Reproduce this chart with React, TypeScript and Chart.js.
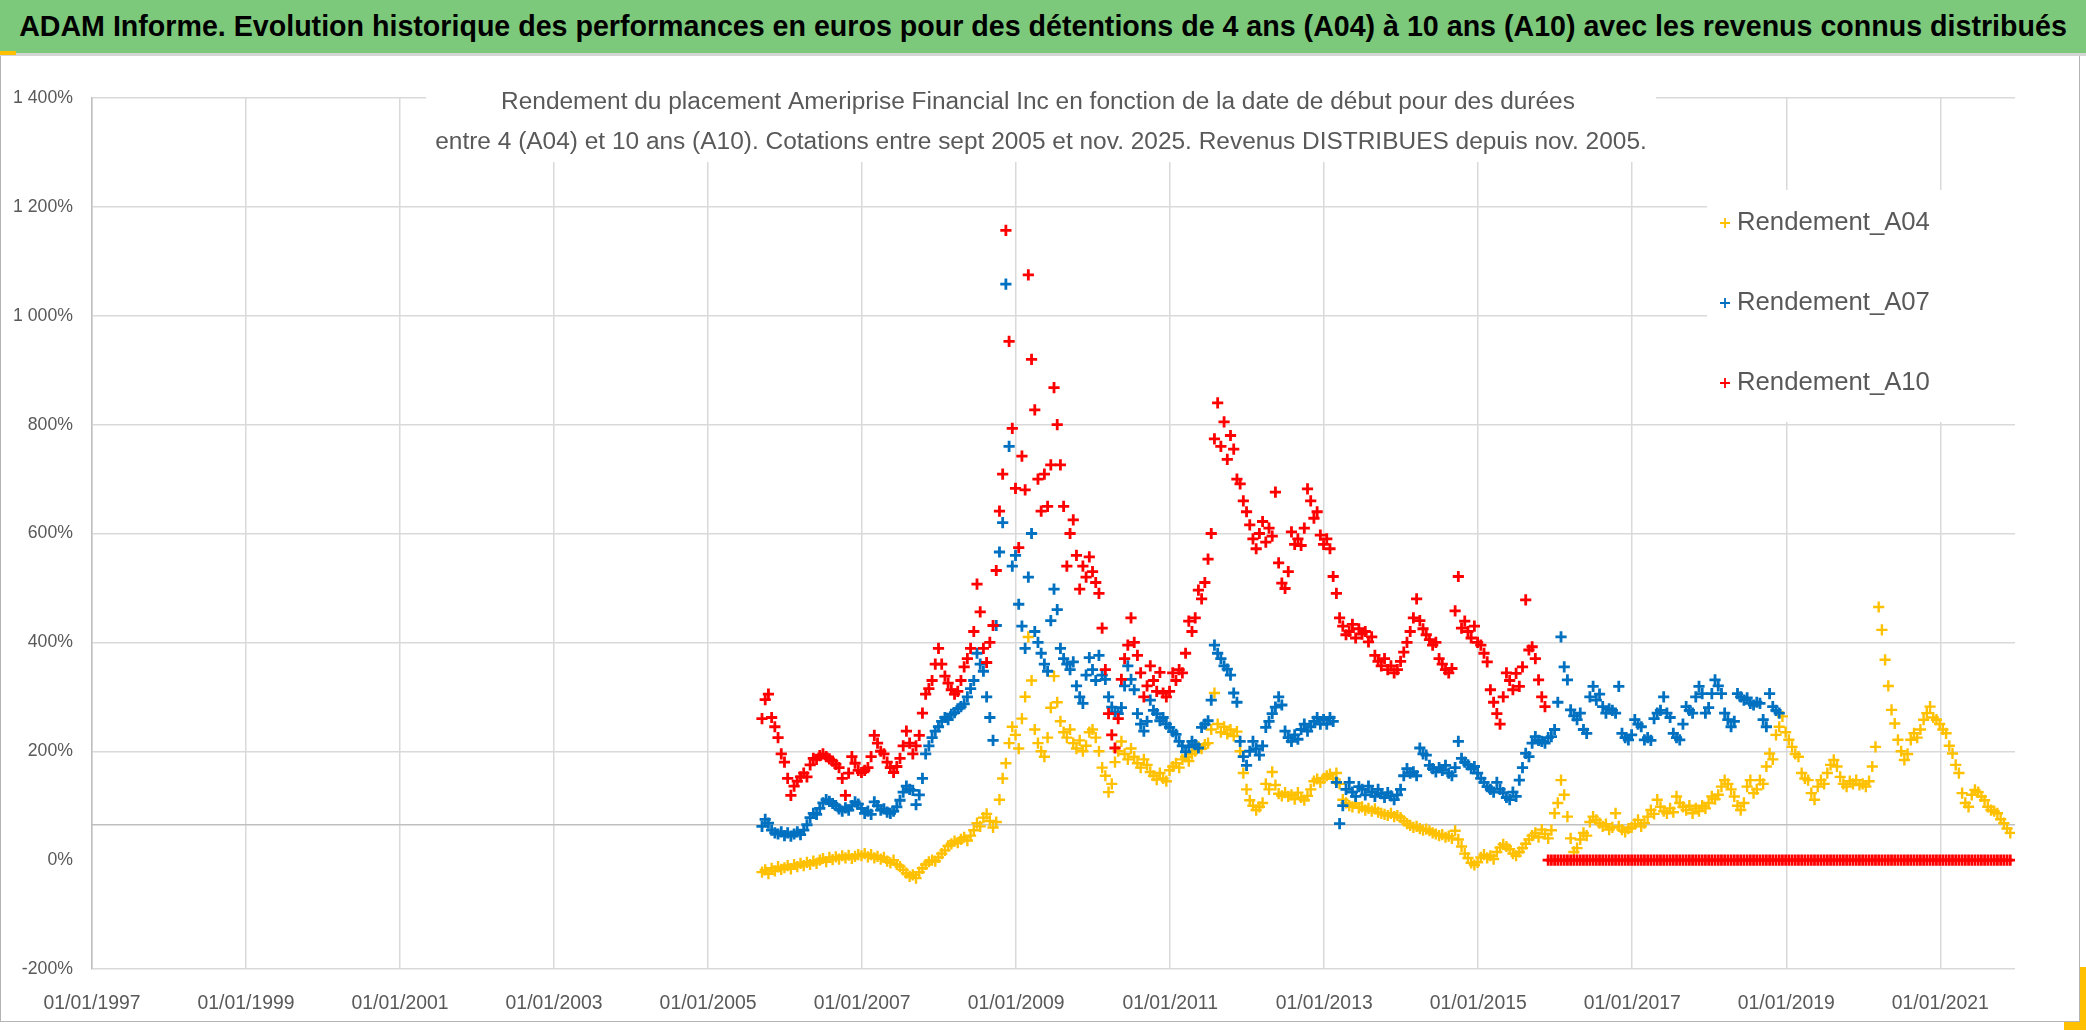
import React, { useEffect, useMemo, useRef } from "react";
import { Chart, registerables } from "chart.js";

Chart.register(...registerables);

// ---------- DATA ----------
const START_YEAR = 2005.7; // first start date: mid-September 2005
const STEP_YEARS = 1 / 24; // semi-monthly start dates

const X_MIN = 1997;
const X_MAX = 2021.97;
const X_TICKS = [1997, 1999, 2001, 2003, 2005, 2007, 2009, 2011, 2013, 2015, 2017, 2019, 2021];
const Y_MIN = -200;
const Y_MAX = 1400;
const Y_STEP = 200;
const AXIS_CROSS = 65; // horizontal axis line position (%)

const LABELS = ["Rendement_A04", "Rendement_A07", "Rendement_A10"];
const COLORS = ["#FFC000", "#0070C0", "#FF0000"];

const TITLE =
  "ADAM Informe. Evolution historique des performances en euros pour des détentions de 4 ans (A04) à 10 ans (A10) avec les revenus connus distribués";
const SUBTITLE = [
  "Rendement du placement Ameriprise Financial Inc en fonction de la date de début pour des durées",
  "entre 4 (A04) et 10 ans (A10). Cotations entre sept 2005 et nov. 2025. Revenus DISTRIBUES depuis nov. 2005.",
];

// Rendement_A04 (%), semi-monthly from Sep 2005
const A04 = [
  -22, -18, -25, -15, -20, -12, -17,
  -14, -10, -16, -8, -12, -6, -10, -4, -8, -2, -6, 0, 3, -3, 5, 1, 6, 2, 8, 4, 9, 3, 7, 10,
  8, 12, 6, 10, 4, 7, 2, 5, -2, -5, 0, -8, -12, -18, -24, -30, -27, -33, -22, -15, -8, -3, 0, -2,
  5, 12, 18, 26, 30, 35, 32, 38, 42, 36, 45, 55, 68, 62, 78, 85, 72, 60, 70, 111, 150, 178, 215, 245,
  230, 205, 260, 300, 410, 330, 240, 215, 200, 190, 225, 280, 338, 290, 255, 235, 225, 240, 215, 205, 220, 200, 210, 235,
  240, 225, 200, 170, 155, 125, 140, 180, 200, 218, 195, 185, 205, 190, 178, 170, 185, 175, 162, 155, 148, 160, 150, 145,
  165, 172, 178, 170, 185, 190, 182, 195, 200, 208, 205, 212, 215, 240, 307, 250, 235, 245, 232, 240, 228, 236, 200, 160,
  130, 110, 100, 92, 98, 105, 140, 130, 162, 138, 122, 118, 124, 117, 120, 112, 124, 115, 110, 118, 130, 145, 149, 143,
  150, 155, 158, 150, 160, 140, 111, 105, 100, 98, 104, 96, 98, 92, 95, 90, 94, 88, 86, 84, 82, 86, 80, 82,
  78, 72, 67, 64, 60, 62, 58, 55, 57, 54, 50, 48, 45, 47, 42, 44, 40, 54, 38, 25, 12, 4, -5, -9,
  -4, 5, 10, 4, 8, 2, 15, 23, 29, 25, 20, 12, 8, 15, 22, 30, 38, 45, 50, 42, 56, 48, 40, 55,
  86, 105, 147, 120, 80, 40, 15, 22, 38, 50, 45, 70, 80, 74, 68, 62, 66, 56, 60, 86, 62, 56, 52, 58,
  60, 66, 74, 62, 68, 80, 92, 85, 111, 98, 90, 86, 95, 88, 117, 105, 98, 92, 100, 86, 95, 90, 100, 95,
  105, 117, 112, 120, 135, 147, 140, 130, 117, 100, 92, 105, 135, 147, 123, 130, 147, 140, 172, 196, 185, 230, 245, 264,
  235, 221, 208, 195, 190, 160, 150, 147, 123, 111, 135, 147, 140, 160, 175, 184, 172, 153, 140, 135, 145, 140, 147, 138,
  140, 135, 145, 172, 208, 465, 423, 368, 320, 276, 251, 221, 200, 184, 195, 221, 233, 225, 240, 258, 270, 282, 262, 258,
  250, 240, 233, 210, 196, 175, 160, 123, 105, 98, 120, 129, 125, 117, 110, 98, 92, 90, 86, 75, 68, 58, 50,
];

// Rendement_A07 (%), semi-monthly from Sep 2005
const A07 = [
  62, 75, 68, 55, 50, 48, 52,
  45, 50, 44, 48, 52, 47, 55, 65, 78, 86, 84, 95, 105, 111, 108, 104, 100, 94, 90, 96, 92, 100, 107, 103,
  95, 86, 90, 84, 107, 100, 92, 94, 88, 86, 90, 98, 110, 125, 136, 130, 128, 102, 120, 150, 195, 210, 225, 237,
  245, 255, 262, 258, 268, 271, 278, 282, 287, 300, 315, 330, 380, 360, 347, 300, 262, 220, 431, 566, 620, 1058, 760, 540,
  560, 470, 430, 389, 520, 600, 420, 400, 380, 360, 347, 440, 498, 460, 389, 370, 360, 350, 364, 320, 300, 288, 340, 372,
  350, 330, 376, 340, 332, 300, 281, 272, 269, 280, 320, 357, 332, 313, 269, 250, 237, 255, 294, 275, 269, 256, 262, 250,
  244, 236, 231, 218, 210, 199, 208, 218, 212, 206, 244, 250, 256, 294, 395, 380, 370, 357, 351, 340, 307, 290, 218, 190,
  174, 200, 218, 205, 193, 210, 244, 255, 269, 281, 300, 285, 237, 225, 218, 230, 222, 240, 250, 237, 245, 255, 262, 250,
  258, 250, 262, 255, 143, 67, 100, 130, 143, 125, 117, 135, 130, 120, 136, 125, 117, 130, 122, 115, 124, 118, 111, 120,
  130, 155, 168, 160, 162, 155, 206, 195, 193, 174, 168, 162, 170, 165, 174, 160, 155, 170, 218, 187, 180, 175, 168, 172,
  160, 150, 143, 135, 130, 125, 143, 130, 124, 115, 111, 125, 117, 147, 170, 196, 190, 215, 227, 220, 218, 215, 225, 227,
  240, 290, 410, 355, 331, 276, 265, 258, 270, 240, 233, 300, 319, 294, 305, 282, 270, 278, 275, 270, 319, 233, 225, 221,
  230, 258, 250, 245, 221, 225, 220, 260, 270, 275, 300, 270, 262, 233, 225, 221, 250, 282, 275, 270, 300, 319, 306, 270,
  280, 306, 331, 320, 306, 270, 258, 245, 255, 306, 300, 294, 298, 288, 285, 290, 288, 258, 245, 306, 282, 275, 270,
];

// Rendement_A10 (%), semi-monthly from Sep 2005 (0 once the 10-year window passes nov. 2025)
const A10 = [
  260, 295, 305, 262, 245, 225, 195,
  180, 150, 119, 136, 145, 153, 160, 153, 175, 187, 185, 192, 195, 190, 186, 182, 176, 170, 150, 119, 160, 190, 178, 165,
  161, 165, 170, 190, 229, 215, 200, 195, 180, 170, 161, 172, 187, 210, 237, 215, 195, 210, 229, 270, 305, 315, 330, 360,
  389, 360, 338, 325, 313, 305, 310, 330, 355, 370, 389, 420, 507, 456, 389, 363, 400, 431, 532, 641, 709, 1157, 953, 793,
  683, 574, 742, 680, 1075, 920, 827, 700, 641, 709, 650, 726, 868, 800, 726, 650, 540, 600, 625, 560, 498, 540, 520, 557,
  530, 510, 490, 426, 350, 269, 230, 206, 260, 332, 370, 395, 445, 400, 376, 344, 300, 320, 357, 330, 310, 345, 307, 300,
  310, 344, 330, 350, 344, 380, 439, 420, 445, 496, 480, 510, 553, 600, 774, 840, 760, 805, 736, 780, 755, 700, 691, 660,
  640, 616, 590, 572, 600, 622, 584, 610, 595, 676, 546, 509, 499, 530, 603, 580, 590, 578, 610, 682, 660, 628, 640, 597,
  580, 590, 572, 521, 490, 445, 430, 414, 420, 433, 408, 425, 415, 420, 401, 410, 376, 365, 357, 370, 350, 357, 344, 350,
  365, 382, 400, 420, 445, 480, 440, 425, 414, 405, 395, 400, 370, 360, 350, 344, 352, 458, 521, 426, 439, 420, 408, 430,
  400, 395, 380, 364, 313, 290, 269, 250, 300, 344, 330, 313, 343, 319, 355, 478, 386, 392, 370, 331, 300, 282,
  0, 0, 0, 0, 0, 0, 0, 0, 0, 0, 0, 0, 0, 0, 0, 0, 0, 0, 0, 0, 0, 0, 0, 0,
  0, 0, 0, 0, 0, 0, 0, 0, 0, 0, 0, 0, 0, 0, 0, 0, 0, 0, 0, 0, 0, 0, 0, 0,
  0, 0, 0, 0, 0, 0, 0, 0, 0, 0, 0, 0, 0, 0, 0, 0, 0, 0, 0, 0, 0, 0, 0, 0,
  0, 0, 0, 0, 0, 0, 0, 0, 0, 0, 0, 0, 0, 0, 0, 0, 0, 0, 0, 0, 0, 0, 0, 0,
  0, 0, 0, 0, 0, 0, 0, 0, 0, 0, 0, 0, 0, 0, 0, 0, 0, 0, 0, 0, 0, 0, 0, 0,
  0, 0, 0, 0, 0, 0, 0, 0, 0, 0, 0, 0, 0, 0, 0, 0, 0, 0, 0, 0, 0, 0, 0, 0,
  0,
];

const SERIES = [A04, A07, A10];

// ---------- STYLE / LAYOUT ----------
const W = 2086;
const H = 1032;
const FAMILY = '"Liberation Sans Narrow", "Arial Narrow", "Liberation Sans", sans-serif';
const TEXT_GRAY = "#595959";
const GRID = "#D9D9D9";
const AXIS = "#BFBFBF";
const PLOT = { left: 92, top: 98, right: 2015, bottom: 969 };

function fitSize(text: string, weight: string, target: number): number {
  const c = document.createElement("canvas").getContext("2d")!;
  c.font = `${weight} 100px ${FAMILY}`;
  return (100 * target) / c.measureText(text).width;
}

function formatPct(v: number): string {
  const a = Math.abs(v);
  const s = v < 0 ? "-" : "";
  if (a >= 1000) return `${s}${Math.floor(a / 1000)} ${String(a % 1000).padStart(3, "0")}%`;
  return `${v}%`;
}

export default function App() {
  const canvasRef = useRef<HTMLCanvasElement | null>(null);
  const titleSize = useMemo(() => fitSize(TITLE, "bold", 2049), []);

  useEffect(() => {
    const canvas = canvasRef.current;
    if (!canvas) return;
    const subSize = fitSize(SUBTITLE[1], "normal", 1212);
    const legSize = fitSize(LABELS[0], "normal", 193);
    const ySize = fitSize("1 400%", "normal", 60);
    const xSize = fitSize("01/01/2021", "normal", 97);

    const overlay = {
      id: "overlay",
      beforeDatasetsDraw(chart: any) {
        const { ctx, chartArea, scales } = chart;
        const py = scales.y.getPixelForValue(AXIS_CROSS);
        ctx.save();
        ctx.strokeStyle = AXIS;
        ctx.lineWidth = 1.5;
        ctx.beginPath();
        ctx.moveTo(chartArea.left, py);
        ctx.lineTo(chartArea.right, py);
        ctx.stroke();
        ctx.restore();
      },
      afterDatasetsDraw(chart: any) {
        const { ctx } = chart;
        ctx.save();
        // subtitle box
        ctx.fillStyle = "#ffffff";
        ctx.fillRect(426, 60, 1230, 102);
        ctx.fillStyle = TEXT_GRAY;
        ctx.font = `normal ${subSize}px ${FAMILY}`;
        ctx.textAlign = "center";
        ctx.textBaseline = "middle";
        ctx.fillText(SUBTITLE[0], 1038, 102);
        ctx.fillText(SUBTITLE[1], 1041, 142);
        // legend box
        ctx.fillStyle = "#ffffff";
        ctx.fillRect(1707, 190, 308, 232);
        ctx.textAlign = "left";
        ctx.font = `normal ${legSize}px ${FAMILY}`;
        chart.data.datasets.forEach((ds: any, i: number) => {
          const ly = 223 + i * 80;
          ctx.strokeStyle = ds.borderColor;
          ctx.lineWidth = 1.8;
          ctx.beginPath();
          ctx.moveTo(1720, ly);
          ctx.lineTo(1730, ly);
          ctx.moveTo(1725, ly - 5);
          ctx.lineTo(1725, ly + 5);
          ctx.stroke();
          ctx.fillStyle = TEXT_GRAY;
          ctx.fillText(ds.label, 1737, ly);
        });
        ctx.restore();
      },
    };

    const datasets = SERIES.map((vals, s) => ({
      label: LABELS[s],
      data: vals.map((v, i) => ({ x: START_YEAR + i * STEP_YEARS, y: v })),
      borderColor: COLORS[s],
      backgroundColor: COLORS[s],
      pointStyle: "cross",
      pointRadius: 5.6,
      pointHoverRadius: 5.6,
      pointBorderWidth: s === 0 ? 2.4 : 2.8,
      showLine: false,
      order: 3 - s,
    }));

    const chart = new Chart(canvas, {
      type: "scatter",
      data: { datasets: datasets as any },
      plugins: [overlay],
      options: {
        animation: false,
        responsive: false,
        devicePixelRatio: 1,
        events: [],
        layout: {
          autoPadding: false,
          padding: { top: PLOT.top, right: W - PLOT.right, bottom: 0, left: 0 },
        } as any,
        plugins: {
          legend: { display: false },
          title: { display: false },
          tooltip: { enabled: false },
        },
        scales: {
          x: {
            type: "linear",
            min: X_MIN,
            max: X_MAX,
            afterBuildTicks(scale: any) {
              scale.ticks = X_TICKS.map((v) => ({ value: v }));
            },
            afterFit(scale: any) {
              scale.height = H - PLOT.bottom;
            },
            ticks: {
              callback: (v: any) => "01/01/" + v,
              color: TEXT_GRAY,
              font: { family: FAMILY, size: xSize },
              padding: 23,
              maxRotation: 0,
              autoSkip: false,
            },
            grid: { color: GRID, lineWidth: 1.5, drawTicks: false },
            border: { display: false },
          },
          y: {
            type: "linear",
            min: Y_MIN,
            max: Y_MAX,
            afterFit(scale: any) {
              scale.width = PLOT.left;
            },
            ticks: {
              stepSize: Y_STEP,
              callback: (v: any) => formatPct(Number(v)),
              color: TEXT_GRAY,
              font: { family: FAMILY, size: ySize },
              padding: 19,
            },
            grid: {
              color: (c: any) => (c.tick && c.tick.value === 0 ? "rgba(0,0,0,0)" : GRID),
              lineWidth: 1.5,
              drawTicks: false,
            },
            border: { display: true, color: AXIS, width: 1.5 },
          },
        },
      },
    });
    return () => chart.destroy();
  }, []);

  return (
    <div
      style={{
        position: "absolute",
        left: 0,
        top: 0,
        width: W,
        height: H,
        background: "#ffffff",
        overflow: "hidden",
      }}
    >
      <canvas ref={canvasRef} width={W} height={H} style={{ position: "absolute", left: 0, top: 0 }} />
      {/* frame */}
      <div
        style={{
          position: "absolute",
          left: 0,
          top: 55,
          width: 2080,
          height: 967,
          border: "1.5px solid #B4B4B4",
          boxSizing: "border-box",
          pointerEvents: "none",
        }}
      />
      {/* title bar */}
      <div
        style={{
          position: "absolute",
          left: 0,
          top: 0,
          width: W,
          height: 53,
          background: "#7DC97C",
          borderBottom: "3px solid #D4D4D4",
          boxSizing: "content-box",
          display: "flex",
          alignItems: "center",
          justifyContent: "center",
          fontFamily: FAMILY,
          fontWeight: "bold",
          fontSize: titleSize,
          color: "#000000",
          whiteSpace: "nowrap",
        }}
      >
        {TITLE}
      </div>
      <div style={{ position: "absolute", left: 0, top: 51, width: 16, height: 4, background: "#FFC000" }} />
      <div style={{ position: "absolute", left: 2080, top: 967, width: 6, height: 63, background: "#FFC000" }} />
      <div style={{ position: "absolute", left: 2064, top: 1022, width: 22, height: 8, background: "#FFC000" }} />
    </div>
  );
}
